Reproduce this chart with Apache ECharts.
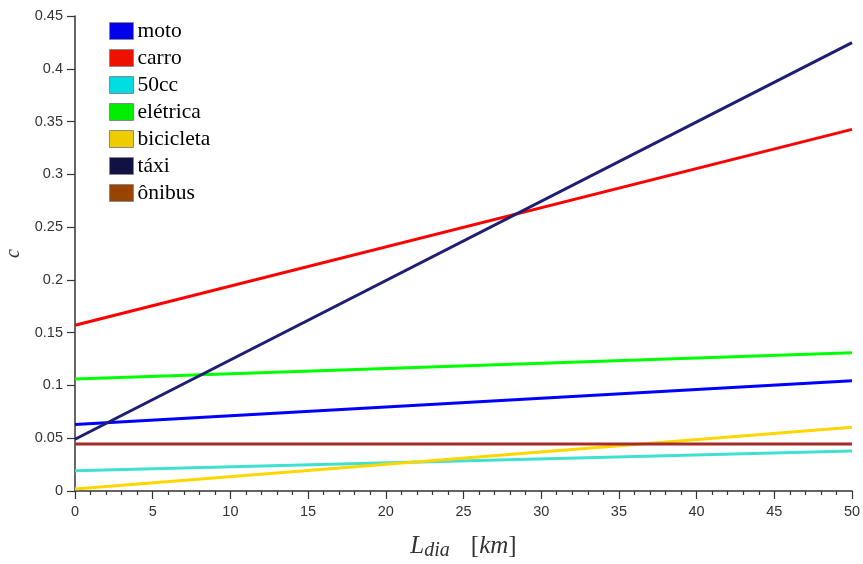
<!DOCTYPE html>
<html>
<head>
<meta charset="utf-8">
<script src="https://cdn.jsdelivr.net/npm/echarts@6/dist/echarts.min.js"></script>
<style>
  html, body { margin: 0; padding: 0; background: #fff; }
  #chart { width: 863px; height: 564px; }
</style>
</head>
<body>
<div id="chart"></div>
<script>
// Daily distance L_dia [km] and cost c per mode (straight lines, end points)
const distance = [0, 50];
const moto      = [0.063, 0.1045];
const carro     = [0.157, 0.3426];
const cc50      = [0.0192, 0.0379];
const eletrica  = [0.106, 0.131];
const bicicleta = [0.002, 0.0603];
const taxi      = [0.049, 0.4247];
const onibus    = [0.0445, 0.0445];

const names = ['moto', 'carro', '50cc', 'elétrica', 'bicicleta', 'táxi', 'ônibus'];
const values = [moto, carro, cc50, eletrica, bicicleta, taxi, onibus];
const lineColors = ['#0000ff', '#ff0000', '#40e0d0', '#00ff00', '#ffd700', '#1e1e72', '#a52a2a'];
const swatchColors = ['#0000ee', '#ee1100', '#00dde0', '#00ee00', '#eecc00', '#111144', '#994400'];

const yTicks = { min: 0, max: 0.45, interval: 0.05 };
const xTicks = { min: 0, max: 50, interval: 5 };

const chart = echarts.init(document.getElementById('chart'), null, { renderer: 'canvas' });

const series = names.map((n, i) => ({
  name: n,
  type: 'line',
  data: distance.map((d, k) => [d, values[i][k]]),
  showSymbol: false,
  symbol: 'none',
  lineStyle: { color: lineColors[i], width: 3 },
  itemStyle: { color: lineColors[i] },
  z: 2 + i,
  silent: true,
  animation: false
}));

const serif = '"Liberation Serif", "DejaVu Serif", serif';

chart.setOption({
  animation: false,
  backgroundColor: '#ffffff',
  grid: { left: 75, right: 11, top: 16, bottom: 73, containLabel: false, outerBoundsMode: 'none' },
  legend: {
    orient: 'vertical',
    left: 109,
    top: 20,
    padding: 0,
    icon: 'rect',
    itemWidth: 24,
    itemHeight: 17,
    itemGap: 5,
    backgroundColor: 'transparent',
    selectedMode: false,
    textStyle: { fontFamily: serif, fontSize: 21.5, lineHeight: 17, color: '#000', padding: [0, 0, 0, -1] },
    data: names.map((n, i) => ({
      name: n,
      itemStyle: { color: swatchColors[i], borderColor: '#888', borderWidth: 1 }
    }))
  },
  xAxis: {
    type: 'value',
    min: xTicks.min,
    max: xTicks.max,
    interval: xTicks.interval,
    name: '{L|L}{s|dia}{sp| }{b|[}{k|km}{b|]}',
    nameLocation: 'middle',
    nameGap: 41,
    nameTextStyle: {
      rich: {
        L: { fontFamily: serif, fontStyle: 'italic', fontSize: 25, lineHeight: 28, color: '#333' },
        s: { fontFamily: serif, fontStyle: 'italic', fontSize: 20, lineHeight: 28, color: '#333', padding: [10, 0, 0, 0] },
        sp: { fontSize: 25, width: 21 },
        b: { fontFamily: serif, fontSize: 25, lineHeight: 28, color: '#333' },
        k: { fontFamily: serif, fontStyle: 'italic', fontSize: 25, lineHeight: 28, color: '#333' }
      }
    },
    axisLine: { show: true, onZero: false, lineStyle: { color: '#333', width: 1.5 } },
    axisTick: { show: true, inside: false, length: 8, lineStyle: { color: '#333', width: 1.2 } },
    minorTick: { show: true, splitNumber: 5, length: 4, lineStyle: { color: '#333', width: 1.2 } },
    axisLabel: { margin: 13, fontFamily: '"Liberation Sans", Arial, sans-serif', fontSize: 14.5, color: '#333' },
    splitLine: { show: false }
  },
  yAxis: {
    type: 'value',
    min: yTicks.min,
    max: yTicks.max,
    interval: yTicks.interval,
    name: 'c',
    nameLocation: 'middle',
    nameGap: 48,
    nameTextStyle: { fontFamily: serif, fontStyle: 'italic', fontSize: 20, color: '#333' },
    axisLine: { show: true, onZero: false, lineStyle: { color: '#333', width: 1.5 } },
    axisTick: { show: true, inside: false, length: 8, lineStyle: { color: '#333', width: 1.2 } },
    axisLabel: { margin: 12, fontFamily: '"Liberation Sans", Arial, sans-serif', fontSize: 14.5, color: '#333' },
    splitLine: { show: false }
  },
  series: series
});
</script>
</body>
</html>
